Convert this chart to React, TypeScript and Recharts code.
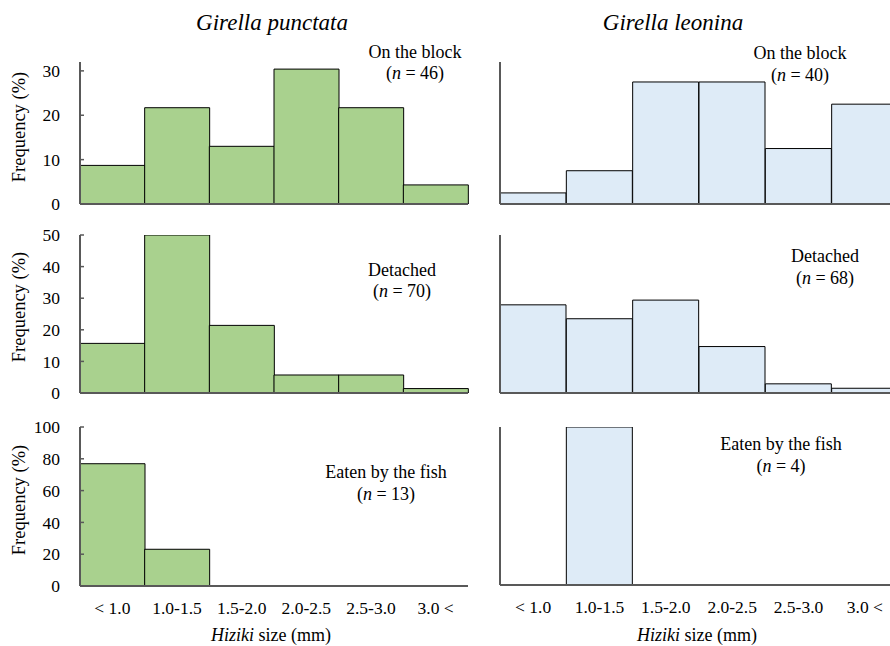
import { BarChart, Bar, XAxis, YAxis } from "recharts";

const sizeClasses = ["< 1.0", "1.0-1.5", "1.5-2.0", "2.0-2.5", "2.5-3.0", "3.0 <"];
const edgeTicks = [0, 1, 2, 3, 4, 5, 6];

// frequency (%) per size class
const punctataOnBlock = [8.7, 21.7, 13.0, 30.4, 21.7, 4.3];
const leoninaOnBlock = [2.5, 7.5, 27.5, 27.5, 12.5, 22.5];
const punctataDetached = [15.7, 50.0, 21.4, 5.7, 5.7, 1.4];
const leoninaDetached = [27.9, 23.5, 29.4, 14.7, 2.9, 1.5];
const punctataEaten = [76.9, 23.1, 0, 0, 0, 0];
const leoninaEaten = [0, 100, 0, 0, 0, 0];

const ticksBlock = [0, 10, 20, 30];
const ticksDetached = [0, 10, 20, 30, 40, 50];
const ticksEaten = [0, 20, 40, 60, 80, 100];

const FONT = '"Liberation Serif", "Times New Roman", serif';
const GREEN = "#a9d18e";
const BLUE = "#deebf7";
const AXIS = "#595959";

interface PanelProps {
  values: number[];
  color: string;
  yMax: number;
  yTicks: number[];
  left: number;
  top: number;
  plotHeight: number;
  chartWidth: number;
  rightMargin: number;
  showYLabels: boolean;
  showXLabels: boolean;
}

function Panel({
  values,
  color,
  yMax,
  yTicks,
  left,
  top,
  plotHeight,
  chartWidth,
  rightMargin,
  showYLabels,
  showXLabels,
}: PanelProps) {
  const data = sizeClasses.map((size, i) => ({ size, freq: values[i] }));
  const catHeight = showXLabels ? 40 : 0;
  const bottom = 14;
  const height = 20 + plotHeight + 1 + catHeight + bottom;
  return (
    <div style={{ position: "absolute", left, top }}>
      <BarChart
        width={chartWidth}
        height={height}
        data={data}
        margin={{ top: 20, right: rightMargin, left: 0, bottom }}
        barCategoryGap={0}
        barGap={0}
      >
        {/* boundary ticks between size classes, pointing inward */}
        <XAxis
          xAxisId="a-edges"
          type="number"
          domain={[0, 6]}
          ticks={edgeTicks}
          interval={0}
          allowDataOverflow
          tick={false}
          tickSize={-5}
          height={1}
          axisLine={{ stroke: AXIS, strokeWidth: 2 }}
          tickLine={{ stroke: AXIS, strokeWidth: 1.5 }}
        />
        <XAxis
          xAxisId="b-cat"
          dataKey="size"
          hide={!showXLabels}
          height={catHeight}
          axisLine={false}
          tickLine={false}
          tickSize={0}
          tickMargin={15}
          interval={0}
          tick={{ fontSize: 17.5, fill: "#000", fontFamily: FONT }}
        />
        <YAxis
          width={80}
          domain={[0, yMax]}
          ticks={yTicks}
          interval={0}
          allowDataOverflow
          tick={showYLabels ? { fontSize: 17.5, fill: "#000", fontFamily: FONT } : false}
          tickSize={-4}
          tickMargin={24}
          axisLine={{ stroke: AXIS, strokeWidth: 2 }}
          tickLine={{ stroke: AXIS, strokeWidth: 1.5 }}
        />
        <Bar xAxisId="b-cat" dataKey="freq" fill={color} stroke="#000" strokeWidth={1} isAnimationActive={false} />
      </BarChart>
    </div>
  );
}

function Label({
  x,
  y,
  size = 18,
  italic = false,
  rotate = false,
  children,
}: {
  x: number;
  y: number;
  size?: number;
  italic?: boolean;
  rotate?: boolean;
  children: React.ReactNode;
}) {
  return (
    <div
      style={{
        position: "absolute",
        left: x,
        top: y,
        transform: `translate(-50%, -50%)${rotate ? " rotate(-90deg)" : ""}`,
        whiteSpace: "nowrap",
        fontSize: size,
        lineHeight: 1,
        fontStyle: italic ? "italic" : "normal",
        color: "#000",
      }}
    >
      {children}
    </div>
  );
}

const Note = ({ x, y1, y2, title, n }: { x: number; y1: number; y2: number; title: string; n: number }) => (
  <>
    <Label x={x} y={y1}>{title}</Label>
    <Label x={x} y={y2}>
      (<i>n</i> = {n})
    </Label>
  </>
);

export default function App() {
  const left = { left: 0, chartWidth: 480, rightMargin: 12, showYLabels: true };
  const right = { left: 420, chartWidth: 478, rightMargin: 0, showYLabels: false };
  return (
    <div
      style={{
        position: "absolute",
        left: 0,
        top: 0,
        width: 890,
        height: 646,
        overflow: "hidden",
        background: "#fff",
        fontFamily: FONT,
      }}
    >
      <Panel {...left} values={punctataOnBlock} color={GREEN} yMax={32} yTicks={ticksBlock} top={42} plotHeight={142} showXLabels={false} />
      <Panel {...right} values={leoninaOnBlock} color={BLUE} yMax={32} yTicks={ticksBlock} top={42} plotHeight={142} showXLabels={false} />
      <Panel {...left} values={punctataDetached} color={GREEN} yMax={50} yTicks={ticksDetached} top={215} plotHeight={158} showXLabels={false} />
      <Panel {...right} values={leoninaDetached} color={BLUE} yMax={50} yTicks={ticksDetached} top={215} plotHeight={158} showXLabels={false} />
      <Panel {...left} values={punctataEaten} color={GREEN} yMax={100} yTicks={ticksEaten} top={407} plotHeight={159} showXLabels />
      <Panel {...right} values={leoninaEaten} color={BLUE} yMax={100} yTicks={ticksEaten} top={407} plotHeight={158} showXLabels />

      <Label x={272} y={22} size={23} italic>Girella punctata</Label>
      <Label x={673} y={22} size={23} italic>Girella leonina</Label>

      <Label x={19} y={127} size={18.5} rotate>Frequency (%)</Label>
      <Label x={19} y={307} size={18.5} rotate>Frequency (%)</Label>
      <Label x={19} y={500} size={18.5} rotate>Frequency (%)</Label>

      <Note x={415} y1={52} y2={73} title="On the block" n={46} />
      <Note x={800} y1={53} y2={75} title="On the block" n={40} />
      <Note x={402} y1={270} y2={291} title="Detached" n={70} />
      <Note x={825} y1={256} y2={278} title="Detached" n={68} />
      <Note x={386} y1={472} y2={494} title="Eaten by the fish" n={13} />
      <Note x={781} y1={444} y2={466} title="Eaten by the fish" n={4} />

      <Label x={271} y={635}>
        <i>Hiziki</i> size (mm)
      </Label>
      <Label x={697} y={635}>
        <i>Hiziki</i> size (mm)
      </Label>
    </div>
  );
}
